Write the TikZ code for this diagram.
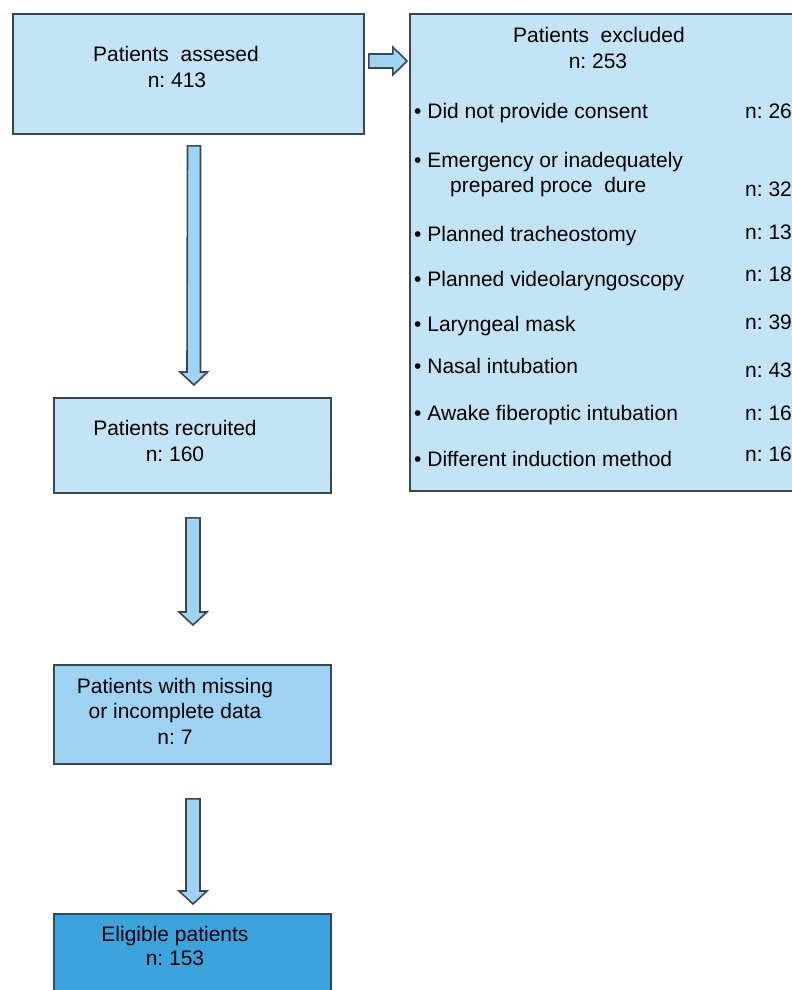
\documentclass[tikz,border=0pt]{standalone}
\usepackage{fontspec}
\setmainfont{Liberation Sans}
\usetikzlibrary{calc}
\frenchspacing
\definecolor{boxline}{HTML}{3A4650}
\definecolor{lightfill}{HTML}{C3E4F6}
\definecolor{midfill}{HTML}{9FD3F3}
\definecolor{darkfill}{HTML}{3BA4DD}
\definecolor{arrowfill}{HTML}{9FD3F3}
\tikzset{
  box/.style={draw=boxline, line width=1.8pt, rectangle, inner sep=0pt, anchor=north west},
  txt/.style={font=\fontsize{21}{24}\selectfont, anchor=base, inner sep=0pt, text=black},
  ltxt/.style={txt, anchor=base west},
  blockarrow/.style={draw=boxline, line width=1.6pt, fill=arrowfill, line join=miter}
}
\begin{document}
\begin{tikzpicture}[x=1pt,y=-1pt]
\useasboundingbox (0,0) rectangle (792,990);
% boxes
\node[box, fill=lightfill, minimum width=351pt, minimum height=120pt] (assessed) at (12,13) {};
\node[box, fill=lightfill, minimum width=420pt, minimum height=477pt] (excluded) at (409,13) {};
\node[box, fill=lightfill, minimum width=277pt, minimum height=95pt] (recruited) at (53,397) {};
\node[box, fill=midfill, minimum width=277pt, minimum height=99pt] (missing) at (53,664) {};
\node[box, fill=darkfill, minimum width=277pt, minimum height=100pt] (eligible) at (53,913) {};
% texts
\node[txt] (t1a) at (176,62) {Patients\ \ assesed};
\node[txt] (t1b) at (177,87) {n: 413};
\node[txt] (t2a) at (599,43) {Patients\ \ excluded};
\node[txt] (t2b) at (598,68) {n: 253};
\node[ltxt] (e1) at (414,118) {• Did not provide consent};
\node[ltxt] (e2) at (414,167) {• Emergency or inadequately};
\node[ltxt] (e2b) at (450,192) {prepared proce\ \ dure};
\node[ltxt] (e3) at (414,241) {• Planned tracheostomy};
\node[ltxt] (e4) at (414,286) {• Planned videolaryngoscopy};
\node[ltxt] (e5) at (414,331) {• Laryngeal mask};
\node[ltxt] (e6) at (414,373) {• Nasal intubation};
\node[ltxt] (e7) at (414,420) {• Awake fiberoptic intubation};
\node[ltxt] (e8) at (414,466) {• Different induction method};
\node[ltxt] (n1) at (745,118) {n: 26};
\node[ltxt] (n2) at (745,196) {n: 32};
\node[ltxt] (n3) at (745,239) {n: 13};
\node[ltxt] (n4) at (745,281) {n: 18};
\node[ltxt] (n5) at (745,329) {n: 39};
\node[ltxt] (n6) at (745,377) {n: 43};
\node[ltxt] (n7) at (745,420) {n: 16};
\node[ltxt] (n8) at (745,461) {n: 16};
\node[txt] (t3a) at (175,435) {Patients recruited};
\node[txt] (t3b) at (175,461) {n: 160};
\node[txt] (t4a) at (175,693) {Patients with missing};
\node[txt] (t4b) at (175,718) {or incomplete data};
\node[txt] (t4c) at (175,744) {n: 7};
\node[txt] (t5a) at (175,941) {Eligible patients};
\node[txt] (t5b) at (175,965) {n: 153};
% connector end points
\coordinate (a1s) at ($(assessed.south west)+(182,11)$);
\coordinate (a1e) at ($(recruited.north west)+(141,-12)$);
\coordinate (a2s) at ($(recruited.south west)+(140,24)$);
\coordinate (a2e) at ($(missing.north west)+(140,-39)$);
\coordinate (a3s) at ($(missing.south west)+(140,34)$);
\coordinate (a3e) at ($(eligible.north west)+(140,-9)$);
\coordinate (h1s) at ($(assessed.north east)+(4,48)$);
\coordinate (h1e) at ($(excluded.north west)+(-2,48)$);
% vertical block arrows
\draw[blockarrow] (a1s) ++(-6.5,0) -- ++(13,0) |- ($(a1e)+(6.5,-13)$) -- ++(7,0) -- (a1e) -- ++(-14,-13) -- ++(7,0) -- cycle;
\draw[blockarrow] (a2s) ++(-7,0) -- ++(14,0) |- ($(a2e)+(7,-13)$) -- ++(7,0) -- (a2e) -- ++(-14,-13) -- ++(7,0) -- cycle;
\draw[blockarrow] (a3s) ++(-7,0) -- ++(14,0) |- ($(a3e)+(7,-13)$) -- ++(7,0) -- (a3e) -- ++(-14,-13) -- ++(7,0) -- cycle;
% horizontal block arrow
\draw[blockarrow] (h1s) ++(0,-7) -- ++(24,0) -- ++(0,-7) -- (h1e) -- ($(h1s)+(24,14)$) -- ++(0,-7) -- ++(-24,0) -- cycle;
\end{tikzpicture}
\end{document}
